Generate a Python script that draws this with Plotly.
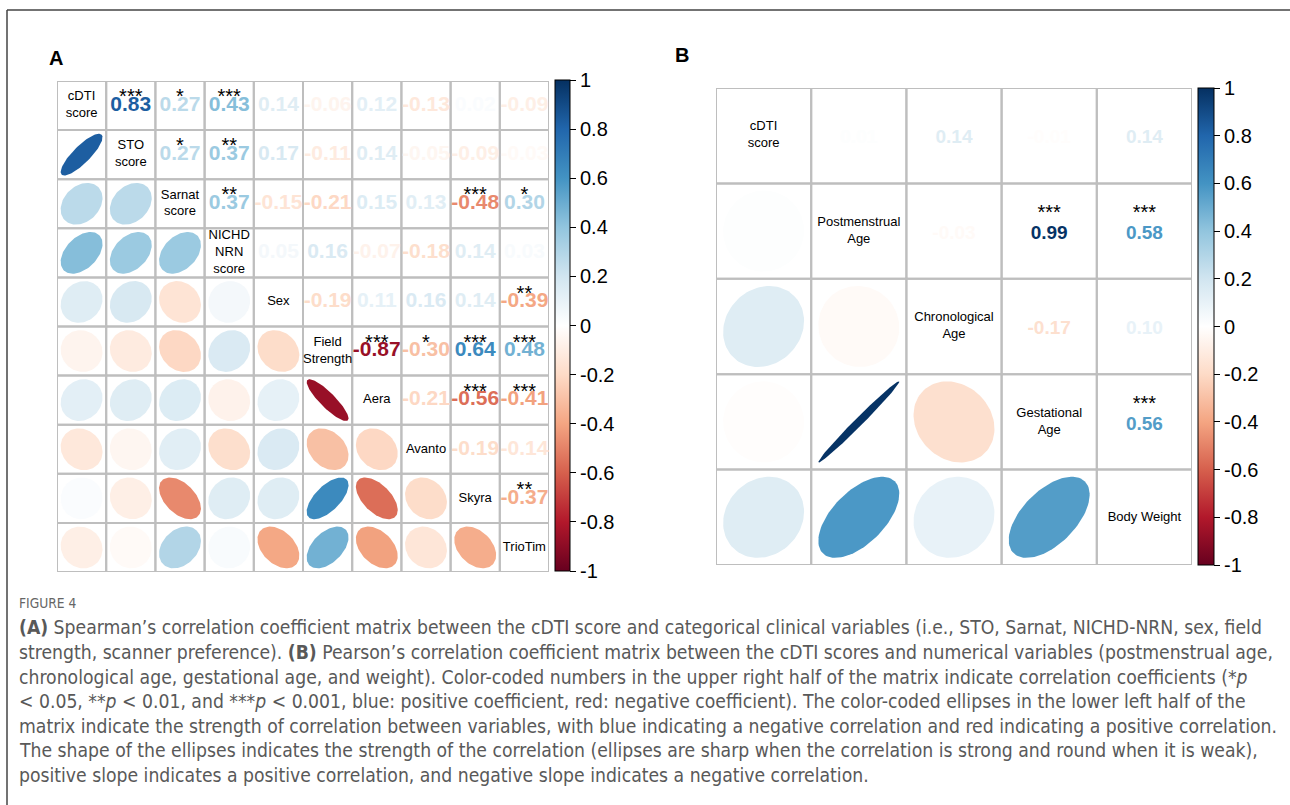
import numpy as np
import plotly.graph_objects as go

W, H = 1290, 805

# ---- Panel A: Spearman correlations (upper triangle, row by row) ----
a_labels = ["cDTI<br>score", "STO<br>score", "Sarnat<br>score", "NICHD<br>NRN<br>score", "Sex",
            "Field<br>Strength", "Aera", "Avanto", "Skyra", "TrioTim"]
a_upper = [
    [0.83, 0.27, 0.43, 0.14, -0.06, 0.12, -0.13, 0.02, -0.09],
    [0.27, 0.37, 0.17, -0.11, 0.14, -0.05, -0.09, -0.03],
    [0.37, -0.15, -0.21, 0.15, 0.13, -0.48, 0.30],
    [0.05, 0.16, -0.07, -0.18, 0.14, 0.03],
    [-0.19, 0.11, 0.16, 0.14, -0.39],
    [-0.87, -0.30, 0.64, 0.48],
    [-0.21, -0.56, -0.41],
    [-0.19, -0.14],
    [-0.37],
]
a_stars = [
    ["***", "*", "***", "", "", "", "", "", ""],
    ["*", "**", "", "", "", "", "", ""],
    ["**", "", "", "", "", "***", "*"],
    ["", "", "", "", "", ""],
    ["", "", "", "", "**"],
    ["***", "*", "***", "***"],
    ["", "***", "***"],
    ["", ""],
    ["**"],
]

# ---- Panel B: Pearson correlations ----
b_labels = ["cDTI<br>score", "Postmenstrual<br>Age", "Chronological<br>Age", "Gestational<br>Age", "Body Weight"]
b_upper = [
    [0.01, 0.14, -0.01, 0.14],
    [-0.03, 0.99, 0.58],
    [-0.17, 0.10],
    [0.56],
]
b_stars = [
    ["", "", "", ""],
    ["", "***", "***"],
    ["", ""],
    ["***"],
]

colorbar_ticks = [-1, -0.8, -0.6, -0.4, -0.2, 0, 0.2, 0.4, 0.6, 0.8, 1]
colorbar_ticktext = ["-1", "-0.8", "-0.6", "-0.4", "-0.2", "0", "0.2", "0.4", "0.6", "0.8", "1"]

caption_lines = [
    "<b>(A)</b> Spearman’s correlation coefficient matrix between the cDTI score and categorical clinical variables (i.e., STO, Sarnat, NICHD-NRN, sex, field",
    "strength, scanner preference). <b>(B)</b> Pearson’s correlation coefficient matrix between the cDTI scores and numerical variables (postmenstrual age,",
    "chronological age, gestational age, and weight). Color-coded numbers in the upper right half of the matrix indicate correlation coefficients (*<i>p</i>",
    "< 0.05, **<i>p</i> < 0.01, and ***<i>p</i> < 0.001, blue: positive coefficient, red: negative coefficient). The color-coded ellipses in the lower left half of the",
    "matrix indicate the strength of correlation between variables, with blue indicating a negative correlation and red indicating a positive correlation.",
    "The shape of the ellipses indicates the strength of the correlation (ellipses are sharp when the correlation is strong and round when it is weak),",
    "positive slope indicates a positive correlation, and negative slope indicates a negative correlation.",
]

# RdBu diverging palette (corrplot default)
PAL = ["#67001F", "#B2182B", "#D6604D", "#F4A582", "#FDDBC7", "#FFFFFF",
       "#D1E5F0", "#92C5DE", "#4393C3", "#2166AC", "#053061"]
COLORSCALE = [[i / 10, c] for i, c in enumerate(PAL)]


def hex2rgb(h):
    h = h.lstrip("#")
    return np.array([int(h[i:i + 2], 16) for i in (0, 2, 4)], dtype=float)


PAL_RGB = [hex2rgb(c) for c in PAL]


def corr_color(r):
    t = (r + 1) / 2 * 10
    i = min(int(np.floor(t)), 9)
    f = t - i
    c = PAL_RGB[i] * (1 - f) + PAL_RGB[i + 1] * f
    return "rgb(%d,%d,%d)" % tuple(np.round(c).astype(int))


def full_matrix(upper):
    n = len(upper) + 1
    m = np.eye(n)
    for i, row in enumerate(upper):
        for k, v in enumerate(row):
            j = i + 1 + k
            m[i, j] = v
            m[j, i] = v
    return m


FONT = "Liberation Sans, Arial, sans-serif"
fig = go.Figure()


def add_panel(idx, labels, upper, stars, box, num_size, num_off, star_size, star_off, lab_size, cbar_box):
    xa = "x" if idx == 1 else "x%d" % idx
    ya = "y" if idx == 1 else "y%d" % idx
    n = len(labels)
    m = full_matrix(upper)
    x0, y0, x1, y1 = box

    # cell borders
    for i in range(n):
        for j in range(n):
            fig.add_shape(type="rect", xref=xa, yref=ya,
                          x0=j + 0.5, x1=j + 1.5, y0=i + 0.5, y1=i + 1.5,
                          line=dict(color="#BEBEBE", width=2), layer="below")

    # ellipses in the lower triangle
    k = np.linspace(0, 2 * np.pi, 99)
    cx, cy, cv = [], [], []
    for i in range(n):
        for j in range(i):
            r = m[i, j]
            a = np.arccos(r) / 2
            dx = 0.425 * np.cos(k + a)
            dy = 0.425 * np.cos(k - a)
            fig.add_trace(go.Scatter(
                x=(j + 1) + dx, y=(i + 1) - dy, mode="lines", fill="toself",
                fillcolor=corr_color(r), line=dict(width=0), hoverinfo="skip",
                showlegend=False, xaxis=xa, yaxis=ya))
            cx.append(j + 1)
            cy.append(i + 1)
            cv.append(r)

    # colour bar driven by the coefficient values
    cb_x, cb_y0, cb_y1, cb_th = cbar_box
    fig.add_trace(go.Scatter(
        x=cx, y=cy, mode="markers", hoverinfo="skip", showlegend=False,
        xaxis=xa, yaxis=ya,
        marker=dict(size=1, opacity=0, color=cv, colorscale=COLORSCALE, cmin=-1, cmax=1,
                    showscale=True,
                    colorbar=dict(x=cb_x / W, xanchor="left", xpad=0,
                                  y=1 - cb_y0 / H, yanchor="top", ypad=0,
                                  len=(cb_y1 - cb_y0) / H, lenmode="fraction",
                                  thickness=cb_th, thicknessmode="pixels",
                                  outlinewidth=1, outlinecolor="black",
                                  tickvals=colorbar_ticks, ticktext=colorbar_ticktext,
                                  ticks="outside", ticklen=6, tickcolor="black",
                                  tickfont=dict(family=FONT, size=20, color="black")))))

    # coefficients in the upper triangle
    tx, ty, tt, tc = [], [], [], []
    sx, sy, st = [], [], []
    for i, row in enumerate(upper):
        for kk, v in enumerate(row):
            j = i + 1 + kk
            tx.append(j + 1)
            ty.append(i + 1 + num_off)
            tt.append("%.2f" % v)
            tc.append(corr_color(v))
            if stars[i][kk]:
                sx.append(j + 1)
                sy.append(i + 1 - star_off)
                st.append(stars[i][kk])
    fig.add_trace(go.Scatter(
        x=tx, y=ty, text=tt, mode="text", hoverinfo="skip", showlegend=False,
        textfont=dict(family=FONT, size=num_size, color=tc, weight="bold"),
        xaxis=xa, yaxis=ya))
    fig.add_trace(go.Scatter(
        x=sx, y=sy, text=st, mode="text", hoverinfo="skip", showlegend=False,
        textfont=dict(family=FONT, size=star_size, color="black"),
        xaxis=xa, yaxis=ya))

    # variable names on the diagonal
    fig.add_trace(go.Scatter(
        x=list(range(1, n + 1)), y=list(range(1, n + 1)), text=labels, mode="text",
        hoverinfo="skip", showlegend=False,
        textfont=dict(family=FONT, size=lab_size, color="black"),
        xaxis=xa, yaxis=ya))

    axis_common = dict(showgrid=False, zeroline=False, showticklabels=False,
                       ticks="", showline=False, fixedrange=True)
    fig.layout["xaxis" if idx == 1 else "xaxis%d" % idx] = dict(
        domain=[x0 / W, x1 / W], range=[0.5, n + 0.5], anchor=ya, **axis_common)
    fig.layout["yaxis" if idx == 1 else "yaxis%d" % idx] = dict(
        domain=[1 - y1 / H, 1 - y0 / H], range=[n + 0.5, 0.5], anchor=xa, **axis_common)


add_panel(1, a_labels, a_upper, a_stars, (57, 81, 549, 572),
          num_size=21, num_off=0.0, star_size=20, star_off=0.15, lab_size=13,
          cbar_box=(555, 80, 571, 15))
add_panel(2, b_labels, b_upper, b_stars, (716, 88, 1192, 565),
          num_size=19, num_off=0.03, star_size=20, star_off=0.18, lab_size=13,
          cbar_box=(1198, 88, 565, 16))

# panel letters
for letter, px, py in (("A", 47, 58), ("B", 673, 55)):
    fig.add_annotation(text="<b>%s</b>" % letter, xref="paper", yref="paper",
                       x=px / W, y=1 - py / H, xanchor="left", yanchor="middle",
                       showarrow=False, font=dict(family=FONT, size=20, color="black"))

# figure caption
CAP_FONT = "Liberation Sans Narrow, DejaVu Sans Condensed, Arial Narrow, sans-serif"
fig.add_annotation(text="FIGURE 4", xref="paper", yref="paper", x=17 / W, y=1 - 603 / H,
                   xanchor="left", yanchor="middle", showarrow=False,
                   font=dict(family=CAP_FONT, size=13.7, color="#666666"))
cap_y = [627, 652, 677, 701, 726, 750, 775]
for line, py in zip(caption_lines, cap_y):
    fig.add_annotation(text=line, xref="paper", yref="paper", x=17 / W, y=1 - py / H,
                       xanchor="left", yanchor="middle", showarrow=False, align="left",
                       font=dict(family=CAP_FONT, size=19.2, color="#595959"))

# page frame
fig.add_shape(type="line", xref="paper", yref="paper", x0=7 / W, x1=1, y0=1 - 10 / H, y1=1 - 10 / H,
              line=dict(color="#444444", width=1.5))
fig.add_shape(type="line", xref="paper", yref="paper", x0=7 / W, x1=7 / W, y0=0, y1=1 - 10 / H,
              line=dict(color="#444444", width=1.5))

fig.update_layout(width=W, height=H, margin=dict(l=0, r=0, t=0, b=0),
                  paper_bgcolor="white", plot_bgcolor="white", showlegend=False)

fig.write_html("out.html")
